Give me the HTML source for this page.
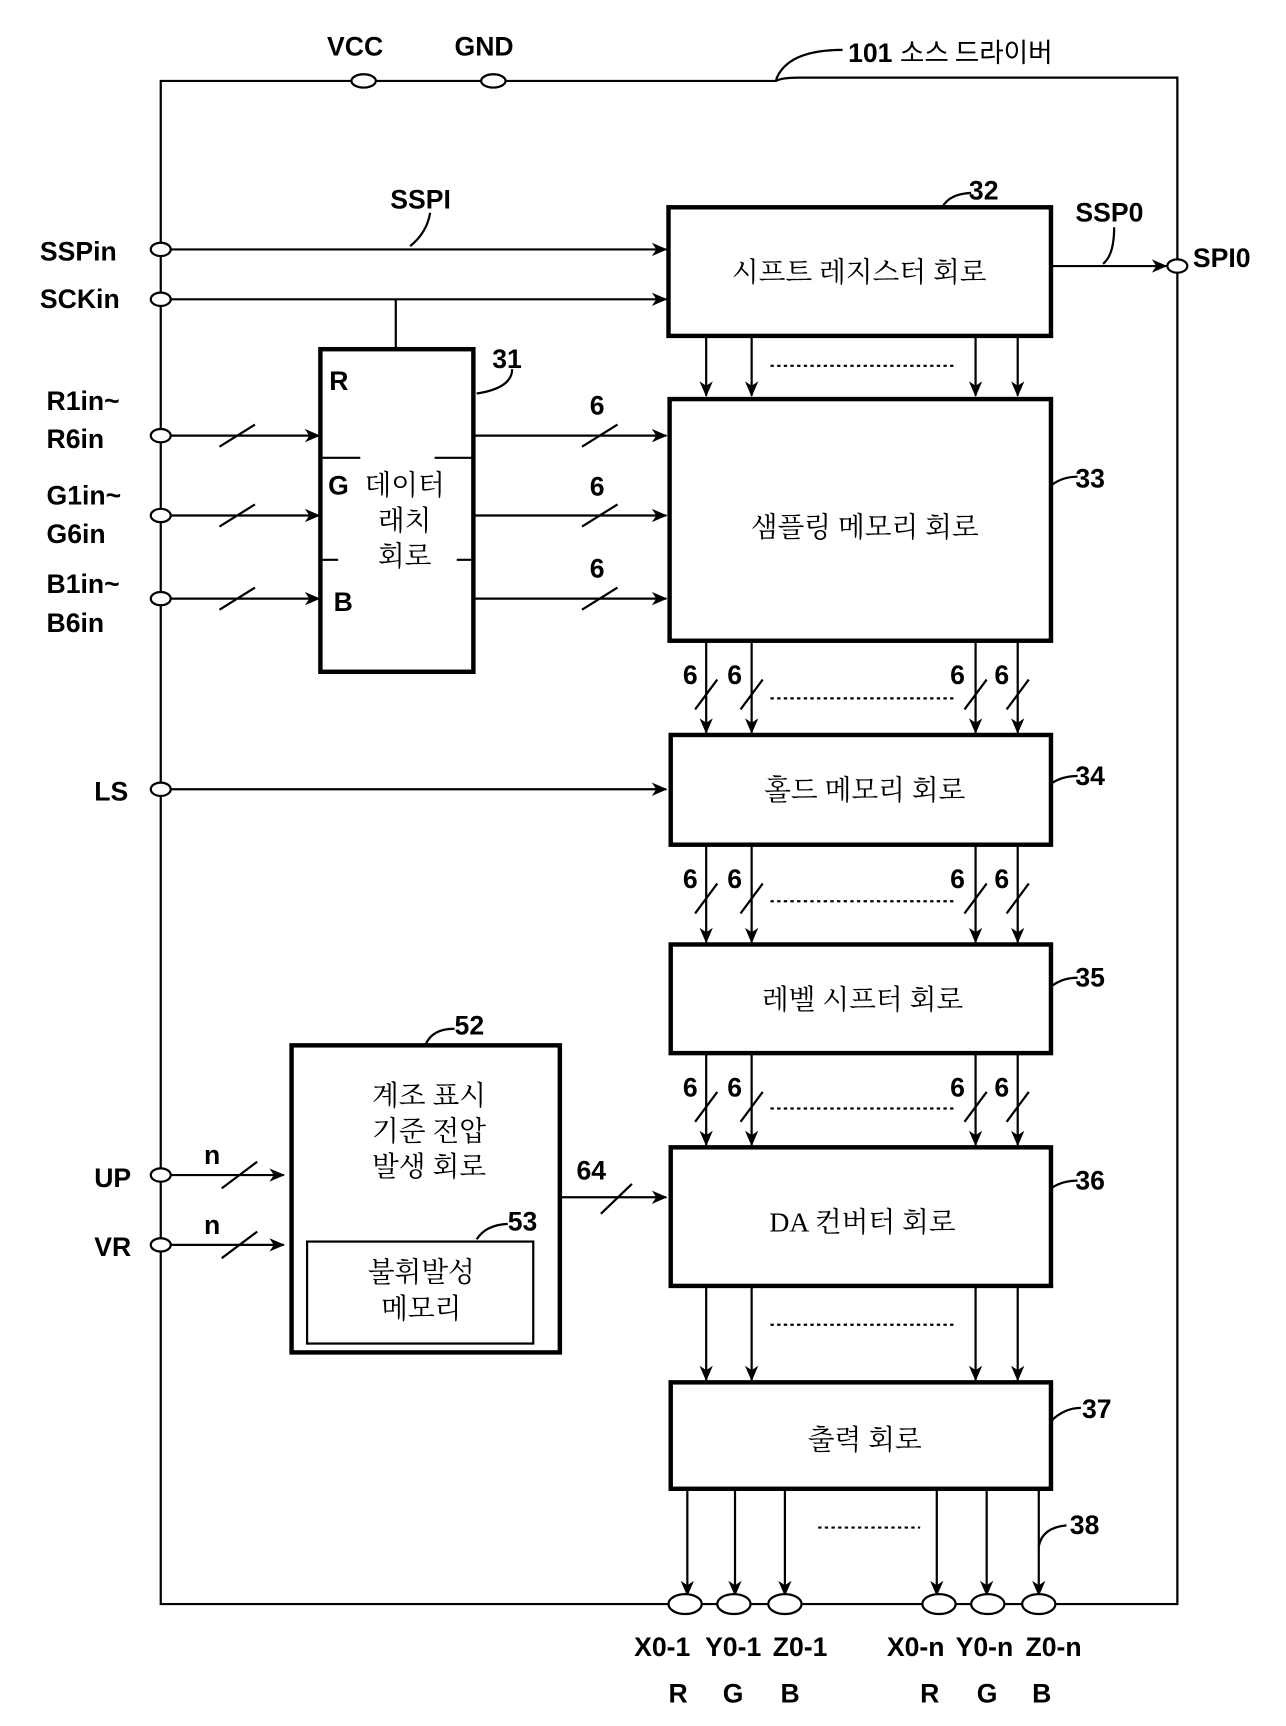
<!DOCTYPE html>
<html><head><meta charset="utf-8"><style>
html,body{margin:0;padding:0;background:#fff;}
svg{display:block;}
.l{font-family:"Liberation Sans",sans-serif;font-weight:bold;font-size:24px;fill:#000;}
.k{font-family:"Liberation Serif","Noto Serif CJK SC","Noto Sans CJK KR",serif;font-size:25px;fill:#000;}
</style></head><body>
<svg width="1286" height="1726" viewBox="0 0 1160 1557" preserveAspectRatio="none" xmlns="http://www.w3.org/2000/svg">
<defs>
<marker id="a" markerWidth="14" markerHeight="12" refX="13" refY="6" orient="auto" markerUnits="userSpaceOnUse">
<path d="M0,0 L14,6 L0,12 L4,6 Z" fill="#000"/></marker>
</defs>
<g stroke="#000" stroke-width="2" fill="none">
<path d="M145,73 H700 Q705,70 720,70 H1062 V1447 H145 Z"/>
<path d="M700,72 Q710,45 760,45"/>
</g>
<g fill="#fff" stroke="#000" stroke-width="2">
<ellipse cx="328" cy="73" rx="11" ry="6"/><ellipse cx="445" cy="73" rx="11" ry="6"/>
<ellipse cx="145" cy="225" rx="9" ry="6"/><ellipse cx="145" cy="270" rx="9" ry="6"/>
<ellipse cx="145" cy="393" rx="9" ry="6"/><ellipse cx="145" cy="465" rx="9" ry="6"/>
<ellipse cx="145" cy="540" rx="9" ry="6"/><ellipse cx="145" cy="712" rx="9" ry="6"/>
<ellipse cx="145" cy="1060" rx="9" ry="6"/><ellipse cx="145" cy="1123" rx="9" ry="6"/>
<ellipse cx="1062" cy="240" rx="9" ry="6"/>
</g>
<text class="l" x="295" y="50">VCC</text><text class="l" x="410" y="50">GND</text>
<text class="l" x="765" y="56">101 <tspan style="font-family:'Noto Sans CJK KR',sans-serif;font-weight:normal">소스 드라이버</tspan></text>
<text class="l" x="36" y="235">SSPin</text><text class="l" x="36" y="278">SCKin</text>
<text class="l" x="42" y="370">R1in~</text><text class="l" x="42" y="404">R6in</text>
<text class="l" x="42" y="455">G1in~</text><text class="l" x="42" y="490">G6in</text>
<text class="l" x="42" y="535">B1in~</text><text class="l" x="42" y="570">B6in</text>
<text class="l" x="85" y="722">LS</text><text class="l" x="85" y="1071">UP</text><text class="l" x="85" y="1133">VR</text>
<g stroke="#000" stroke-width="2" fill="none">
<line x1="154" y1="225" x2="601" y2="225" marker-end="url(#a)"/>
<path d="M370,222 Q385,210 388,192"/>
<line x1="154" y1="270" x2="601" y2="270" marker-end="url(#a)"/>
<path d="M357,270 V315"/>
<line x1="948" y1="240" x2="1052" y2="240" marker-end="url(#a)"/>
<path d="M995,238 Q1005,230 1005,205"/>
<line x1="154" y1="393" x2="288" y2="393" marker-end="url(#a)"/>
<line x1="154" y1="465" x2="288" y2="465" marker-end="url(#a)"/>
<line x1="154" y1="540" x2="288" y2="540" marker-end="url(#a)"/>
<path d="M198,403 L230,383 M198,475 L230,455 M198,550 L230,530"/>
<line x1="428" y1="393" x2="601" y2="393" marker-end="url(#a)"/>
<line x1="428" y1="465" x2="601" y2="465" marker-end="url(#a)"/>
<line x1="428" y1="540" x2="601" y2="540" marker-end="url(#a)"/>
<path d="M525,403 L557,383 M525,475 L557,455 M525,550 L557,530"/>
<path d="M430,355 Q462,350 462,333"/>
<line x1="154" y1="712" x2="601" y2="712" marker-end="url(#a)"/>
<line x1="154" y1="1060" x2="256" y2="1060" marker-end="url(#a)"/>
<line x1="154" y1="1123" x2="256" y2="1123" marker-end="url(#a)"/>
<path d="M200,1072 L232,1048 M200,1135 L232,1111"/>
<line x1="505" y1="1080" x2="601" y2="1080" marker-end="url(#a)"/>
<path d="M542,1095 L570,1068"/>
<path d="M430,1118 Q438,1105 458,1104"/>
<path d="M384,942 Q390,928 410,928"/>
<path d="M850,187 Q856,175 876,174"/>
<path d="M948,438 Q958,430 972,430"/>
<path d="M948,707 Q958,700 972,700"/>
<path d="M948,890 Q958,882 972,882"/>
<path d="M948,1072 Q958,1065 972,1065"/>
<path d="M948,1282 Q960,1270 975,1270"/>
<path d="M937,1395 Q940,1378 962,1376"/>
</g>
<g stroke="#000" stroke-width="2" fill="none">
<line x1="637" y1="303" x2="637" y2="357" marker-end="url(#a)"/><line x1="678" y1="303" x2="678" y2="357" marker-end="url(#a)"/><line x1="880" y1="303" x2="880" y2="357" marker-end="url(#a)"/><line x1="918" y1="303" x2="918" y2="357" marker-end="url(#a)"/>
<line x1="695" y1="330" x2="862" y2="330" stroke-dasharray="3,3"/>
<line x1="637" y1="578" x2="637" y2="661" marker-end="url(#a)"/><line x1="678" y1="578" x2="678" y2="661" marker-end="url(#a)"/><line x1="880" y1="578" x2="880" y2="661" marker-end="url(#a)"/><line x1="918" y1="578" x2="918" y2="661" marker-end="url(#a)"/>
<path d="M627,640 L647,613 M668,640 L688,613 M870,640 L890,613 M908,640 L928,613"/>
<line x1="695" y1="630" x2="862" y2="630" stroke-dasharray="3,3"/>
<line x1="637" y1="762" x2="637" y2="850" marker-end="url(#a)"/><line x1="678" y1="762" x2="678" y2="850" marker-end="url(#a)"/><line x1="880" y1="762" x2="880" y2="850" marker-end="url(#a)"/><line x1="918" y1="762" x2="918" y2="850" marker-end="url(#a)"/>
<path d="M627,824 L647,797 M668,824 L688,797 M870,824 L890,797 M908,824 L928,797"/>
<line x1="695" y1="813" x2="862" y2="813" stroke-dasharray="3,3"/>
<line x1="637" y1="950" x2="637" y2="1033" marker-end="url(#a)"/><line x1="678" y1="950" x2="678" y2="1033" marker-end="url(#a)"/><line x1="880" y1="950" x2="880" y2="1033" marker-end="url(#a)"/><line x1="918" y1="950" x2="918" y2="1033" marker-end="url(#a)"/>
<path d="M627,1012 L647,985 M668,1012 L688,985 M870,1012 L890,985 M908,1012 L928,985"/>
<line x1="695" y1="1000" x2="862" y2="1000" stroke-dasharray="3,3"/>
<line x1="637" y1="1160" x2="637" y2="1245" marker-end="url(#a)"/><line x1="678" y1="1160" x2="678" y2="1245" marker-end="url(#a)"/><line x1="880" y1="1160" x2="880" y2="1245" marker-end="url(#a)"/><line x1="918" y1="1160" x2="918" y2="1245" marker-end="url(#a)"/>
<line x1="695" y1="1195" x2="862" y2="1195" stroke-dasharray="3,3"/>
<line x1="620" y1="1343" x2="620" y2="1439" marker-end="url(#a)"/><line x1="663" y1="1343" x2="663" y2="1439" marker-end="url(#a)"/><line x1="708" y1="1343" x2="708" y2="1439" marker-end="url(#a)"/>
<line x1="845" y1="1343" x2="845" y2="1439" marker-end="url(#a)"/><line x1="890" y1="1343" x2="890" y2="1439" marker-end="url(#a)"/><line x1="937" y1="1343" x2="937" y2="1439" marker-end="url(#a)"/>
<line x1="738" y1="1378" x2="830" y2="1378" stroke-dasharray="3,3"/>
</g>
<g fill="#fff" stroke="#000" stroke-width="2">
<ellipse cx="618" cy="1447" rx="15" ry="9"/><ellipse cx="662" cy="1447" rx="15" ry="9"/><ellipse cx="708" cy="1447" rx="15" ry="9"/>
<ellipse cx="847" cy="1447" rx="15" ry="9"/><ellipse cx="891" cy="1447" rx="15" ry="9"/><ellipse cx="937" cy="1447" rx="15" ry="9"/>
</g>
<g fill="none" stroke="#000" stroke-width="4">
<rect x="603" y="187" width="345" height="116"/>
<rect x="289" y="315" width="138" height="291"/>
<rect x="604" y="360" width="344" height="218"/>
<rect x="605" y="663" width="343" height="99"/>
<rect x="605" y="852" width="343" height="98"/>
<rect x="605" y="1035" width="343" height="125"/>
<rect x="605" y="1247" width="343" height="96"/>
<rect x="263" y="943" width="242" height="277"/>
</g>
<rect x="277" y="1120" width="204" height="92" fill="none" stroke="#000" stroke-width="2"/>
<path d="M291,413 H325 M392,413 H428 M291,505 H305 M412,505 H428" stroke="#000" stroke-width="2"/>
<text class="l" x="297" y="352">R</text><text class="l" x="296" y="446">G</text><text class="l" x="301" y="551">B</text>
<text class="k" x="365" y="446" text-anchor="middle">데이터</text>
<text class="k" x="365" y="478" text-anchor="middle">래치</text>
<text class="k" x="365" y="510" text-anchor="middle">회로</text>
<text class="k" x="775" y="254" text-anchor="middle">시프트 레지스터 회로</text>
<text class="k" x="780" y="484" text-anchor="middle">샘플링 메모리 회로</text>
<text class="k" x="780" y="721" text-anchor="middle">홀드 메모리 회로</text>
<text class="k" x="778" y="910" text-anchor="middle">레벨 시프터 회로</text>
<text class="k" x="778" y="1111" text-anchor="middle">DA 컨버터 회로</text>
<text class="k" x="780" y="1307" text-anchor="middle">출력 회로</text>
<text class="k" x="387" y="997" text-anchor="middle">계조 표시</text>
<text class="k" x="387" y="1029" text-anchor="middle">기준 전압</text>
<text class="k" x="387" y="1061" text-anchor="middle">발생 회로</text>
<text class="k" x="380" y="1156" text-anchor="middle">불휘발성</text>
<text class="k" x="380" y="1189" text-anchor="middle">메모리</text>
<text class="l" x="874" y="180">32</text><text class="l" x="444" y="332">31</text>
<text class="l" x="970" y="440">33</text><text class="l" x="970" y="708">34</text>
<text class="l" x="970" y="890">35</text><text class="l" x="970" y="1073">36</text>
<text class="l" x="976" y="1279">37</text><text class="l" x="965" y="1384">38</text>
<text class="l" x="410" y="933">52</text><text class="l" x="458" y="1110">53</text>
<text class="l" x="352" y="188">SSPI</text><text class="l" x="970" y="200">SSP0</text><text class="l" x="1076" y="241">SPI0</text>
<text class="l" x="532" y="374">6</text><text class="l" x="532" y="447">6</text><text class="l" x="532" y="521">6</text>
<text class="l" x="520" y="1064">64</text><text class="l" x="184" y="1050">n</text><text class="l" x="184" y="1113">n</text>
<text class="l" x="616" y="617">6</text><text class="l" x="656" y="617">6</text><text class="l" x="857" y="617">6</text><text class="l" x="897" y="617">6</text>
<text class="l" x="616" y="801">6</text><text class="l" x="656" y="801">6</text><text class="l" x="857" y="801">6</text><text class="l" x="897" y="801">6</text>
<text class="l" x="616" y="989">6</text><text class="l" x="656" y="989">6</text><text class="l" x="857" y="989">6</text><text class="l" x="897" y="989">6</text>
<text class="l" x="572" y="1494">X0-1</text><text class="l" x="636" y="1494">Y0-1</text><text class="l" x="697" y="1494">Z0-1</text>
<text class="l" x="800" y="1494">X0-n</text><text class="l" x="862" y="1494">Y0-n</text><text class="l" x="925" y="1494">Z0-n</text>
<text class="l" x="603" y="1536">R</text><text class="l" x="652" y="1536">G</text><text class="l" x="704" y="1536">B</text>
<text class="l" x="830" y="1536">R</text><text class="l" x="881" y="1536">G</text><text class="l" x="931" y="1536">B</text>
</svg>
</body></html>
